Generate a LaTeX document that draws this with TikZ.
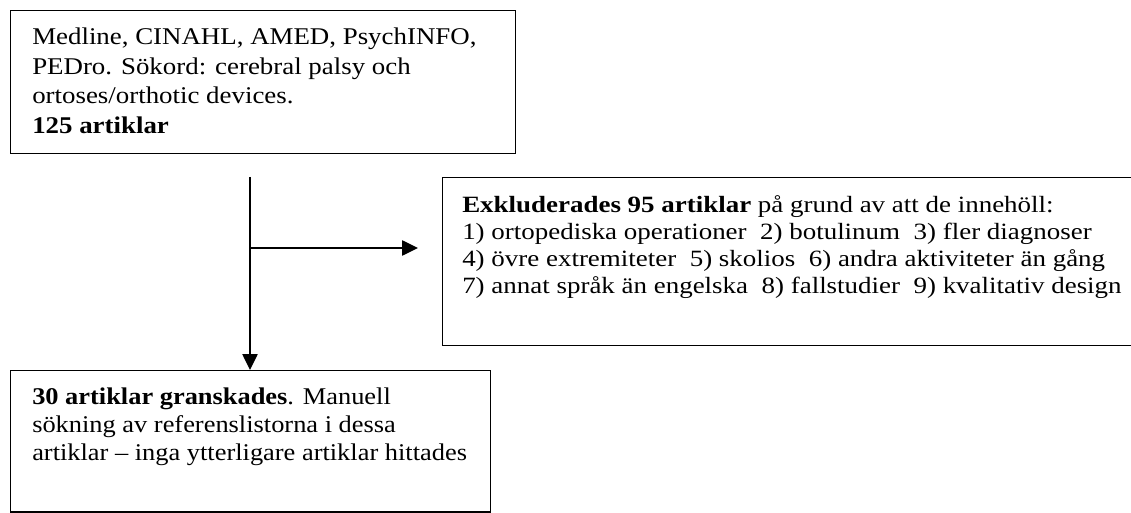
\documentclass[tikz,border=0pt]{standalone}
\usepackage{fontspec}
\setmainfont{Liberation Serif}[FakeStretch=1.12]
\newfontfamily\exclfont{Liberation Serif}[FakeStretch=1.155]
\newfontfamily\lastfont{Liberation Serif}[FakeStretch=1.10]
\usetikzlibrary{arrows.meta,calc}
\tikzset{
  box/.style={draw=black, line width=1.1pt, rectangle, inner sep=0pt, anchor=north west},
  txt/.style={inner sep=0pt, anchor=base west, font=\fontsize{18pt}{22pt}\selectfont},
  flow/.style={draw=black, line width=1.1pt, -{Triangle[length=12pt,width=11.5pt]}},
  flowline/.style={draw=black, line width=1.1pt}
}
\begin{document}
\begin{tikzpicture}[x=0.75pt,y=-0.75pt]
\useasboundingbox (0,0) rectangle (1131,513);
\clip (0,0) rectangle (1131,513);
% boxes
\node[box, minimum width=378.75pt, minimum height=107.25pt] (b1) at (10,10) {};
\node[box, minimum width=522pt, minimum height=126pt] (b2) at (442,177) {};
\node[box, minimum width=360pt, minimum height=106.1pt] (b3) at (10,370) {};
% texts
\node[txt] (t1) at ($(b1.north west)+(22,35)$) {\parbox[t]{370pt}{\baselineskip=22.1pt
Medline, CINAHL, AMED, PsychINFO,\\
PEDro. Sökord: cerebral palsy och\\
ortoses/orthotic devices.\\
\textbf{125 artiklar}}};
\node[txt] (t2) at ($(b2.north west)+(20,36)$) {\parbox[t]{510pt}{\exclfont\fontsize{17.5pt}{20.25pt}\selectfont
\textbf{Exkluderades 95 artiklar} på grund av att de innehöll:\\
1) ortopediska operationer\ \ 2) botulinum\ \ 3) fler diagnoser\\
4) övre extremiteter\ \ 5) skolios\ \ 6) andra aktiviteter än gång\\
7) annat språk än engelska\ \ 8) fallstudier\ \ 9) kvalitativ design}};
\node[txt] (t3) at ($(b3.north west)+(22,34)$) {\parbox[t]{360pt}{\lastfont\fontsize{18pt}{21pt}\selectfont
\textbf{30 artiklar granskades}. Manuell\\
sökning av referenslistorna i dessa\\
artiklar – inga ytterligare artiklar hittades}};
% connectors
\coordinate (s) at (250,177);
\coordinate (j) at (250,248);
\coordinate (e) at (418,248);
\draw[flow] (s) -- (s |- b3.north);
\draw[flow] (j) -- (e);
\end{tikzpicture}
\end{document}
